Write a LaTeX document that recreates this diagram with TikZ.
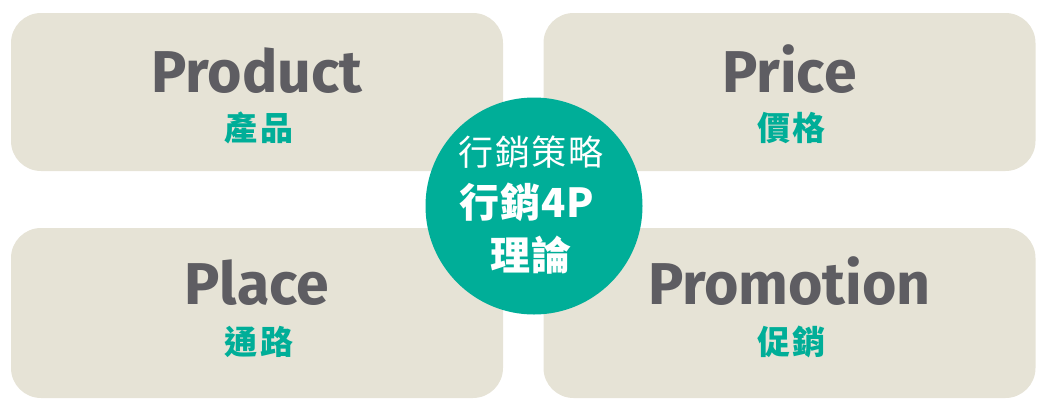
\documentclass[tikz,border=0pt]{standalone}
\usepackage{fontspec}
\setmainfont{Fira Sans}
\newfontfamily\cjk{Noto Sans CJK TC}[LetterSpace=8]
\newfontfamily\cjkhub{Noto Sans CJK TC}[LetterSpace=5]
\newfontfamily\cjkhubbold{Noto Sans CJK TC}[LetterSpace=2]
\usepackage{xcolor}
\usetikzlibrary{positioning}

\definecolor{boxbeige}{HTML}{E6E3D6}
\definecolor{hubteal}{HTML}{00AE98}
\definecolor{titlegray}{HTML}{5E5D62}

\tikzset{
  quadbox/.style={fill=boxbeige, rounded corners=30pt, minimum width=492pt,
    minimum height=158pt, inner sep=0pt},
  entitle/.style={font=\bfseries\fontsize{59}{59}\selectfont, text=titlegray,
    inner sep=0pt, anchor=base},
  zhtitle/.style={font=\cjk\bfseries\fontsize{33}{33}\selectfont, text=hubteal,
    inner sep=0pt},
  hub/.style={circle, fill=hubteal, minimum size=217pt, inner sep=0pt},
  hubtext/.style={font=\cjkhub\fontsize{35}{35}\selectfont, text=white, inner sep=0pt},
  hubbold/.style={hubtext, font=\cjkhubbold\bfseries\fontsize{40}{40}\selectfont}
}

\begin{document}
\begin{tikzpicture}[x=1pt,y=-1pt]
  \useasboundingbox (0,0) rectangle (1050,416);

  % Draw the four boxes
  \node[quadbox] (product) at (257,92) {};
  \node[quadbox] (price) at (789.5,92) {};
  \node[quadbox, minimum height=170pt] (place) at (257,313) {};
  \node[quadbox, minimum height=170pt] (promotion) at (789.5,313) {};

  % Label boxes
  \node[entitle] (producten) at (257,92) {Product};
  \node[zhtitle] (productzh) at (259,128) {產品};
  \node[entitle] (priceen) at (789.5,92) {Price};
  \node[zhtitle] (pricezh) at (791.5,128) {價格};
  \node[entitle] (placeen) at (257,304) {Place};
  \node[zhtitle] (placezh) at (259,342) {通路};
  \node[entitle] (promotionen) at (789.5,304) {Promotion};
  \node[zhtitle] (promotionzh) at (791.5,342) {促銷};

  % Draw center circle
  \node[hub] (core) at (534,206) {};
  \node[hubtext] (coretop) at (531,152) {行銷策略};
  \node[hubbold] (coremid) at (527,202) {行銷4P};
  \node[hubbold] (corebot) at (531,255) {理論};
\end{tikzpicture}
\end{document}
